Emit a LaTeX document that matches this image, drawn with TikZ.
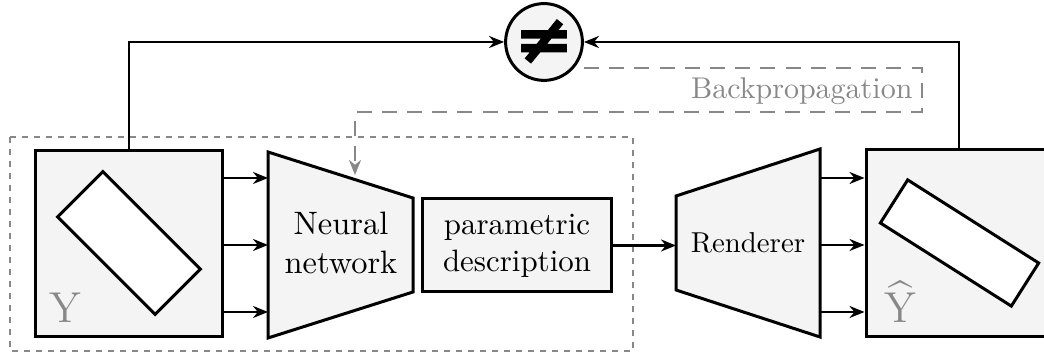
\documentclass[tikz,border=0pt]{standalone}
\usepackage{fontspec}
\usepackage{amsmath}
\usetikzlibrary{arrows.meta,calc}
\newfontfamily\neqfont[FakeBold=4]{DejaVu Sans}
\definecolor{boxfill}{HTML}{F4F4F4}
\definecolor{midgray}{HTML}{888888}
\begin{document}
\begin{tikzpicture}[x=0.3333pt,y=-0.3333pt,
  box/.style={draw=black,line width=1pt,fill=boxfill},
  arr/.style={line width=0.8pt,-{Stealth[length=5pt,width=4pt]}},
  lbl/.style={font=\fontsize{10.3}{12.4}\selectfont,align=center,inner sep=0pt},
  shapebox/.style={draw=black,line width=1pt,fill=white,inner sep=0pt},
  bigletter/.style={text=midgray,font=\fontsize{14.4}{16}\selectfont,inner sep=0pt},
  region/.style={draw=midgray,line width=0.8pt,dash pattern=on 2pt off 2pt},
  backprop/.style={draw=midgray,line width=0.85pt,dash pattern=on 5pt off 3.4pt,
    -{Stealth[length=5pt,width=4pt]}},
]
\useasboundingbox (0,0) rectangle (1044,358);
\clip (0,0) rectangle (1044,358);

% dotted region
\draw[region] (10,137) rectangle (633,351);

% input box Y
\node[box,minimum width=62pt,minimum height=62.3pt] (ybox) at (129,243.5) {};
\node[shapebox,minimum width=46pt,minimum height=21.3pt,rotate=-45] (yrect) at (129,243) {};
\node[bigletter,anchor=base] (ylab) at (65,323) {Y};

% neural network trapezoid
\coordinate (nnTL) at (268,152);
\coordinate (nnBL) at (268,338);
\coordinate (nnTR) at (413,198);
\coordinate (nnBR) at (413,292);
\draw[box] (nnTL) -- (nnTR) -- (nnBR) -- (nnBL) -- cycle;
\node[lbl,font=\fontsize{10.8}{12.8}\selectfont] (nn) at (341,243) {Neural\\network};
\coordinate (nnA) at (268,178);
\coordinate (nnB) at (268,245);
\coordinate (nnC) at (268,312);
\draw[arr] (ybox.east |- nnA) -- (nnA);
\draw[arr] (ybox.east |- nnB) -- (nnB);
\draw[arr] (ybox.east |- nnC) -- (nnC);

% parametric description
\node[box,minimum width=62.7pt,minimum height=31pt,lbl] (param) at (517,245.5) {parametric\\description};

% renderer trapezoid
\coordinate (rTL) at (676,196);
\coordinate (rBL) at (676,290);
\coordinate (rTR) at (820,149);
\coordinate (rBR) at (820,337);
\draw[box] (rTL) -- (rTR) -- (rBR) -- (rBL) -- cycle;
\node[lbl,font=\fontsize{9.6}{12}\selectfont] (rend) at (748,243) {Renderer};
\coordinate (rIn) at (676,245.5);
\draw[arr] (param.east) -- (rIn);

% output box Yhat
\node[box,minimum width=62pt,minimum height=62.3pt] (yhbox) at (959,243) {};
\node[shapebox,minimum width=51.7pt,minimum height=17pt,rotate=-32.4] (yhrect) at (959.5,243) {};
\node[bigletter,anchor=base] (yhlab) at (900,323) {$\widehat{\mathrm{Y}}$};
\coordinate (rA) at (820,178);
\coordinate (rB) at (820,245);
\coordinate (rC) at (820,312);
\draw[arr] (rA) -- (yhbox.west |- rA);
\draw[arr] (rB) -- (yhbox.west |- rB);
\draw[arr] (rC) -- (yhbox.west |- rC);

% comparison
\node[box,circle,minimum size=25.6pt,inner sep=0pt] (neq) at (544,42) {\neqfont\fontsize{23}{23}\selectfont ≠};
\draw[arr] (ybox.north) -- (ybox.north |- neq.west) -- (neq.west);
\draw[arr] (yhbox.north) -- (yhbox.north |- neq.east) -- (neq.east);

% backpropagation
\coordinate (bp0) at ($(neq.east)+(0,26)$);
\coordinate (bp1) at (922,68);
\coordinate (bp2) at (922,112);
\coordinate (bp3) at (355,112);
\coordinate (bp4) at (355,175);
\draw[backprop] (bp0) -- (bp1) -- (bp2) -- (bp3) -- (bp4);
\node[lbl,text=midgray,font=\fontsize{10}{12}\selectfont,anchor=base east] (bplab) at (913,99) {Backpropagation};
\end{tikzpicture}
\end{document}
